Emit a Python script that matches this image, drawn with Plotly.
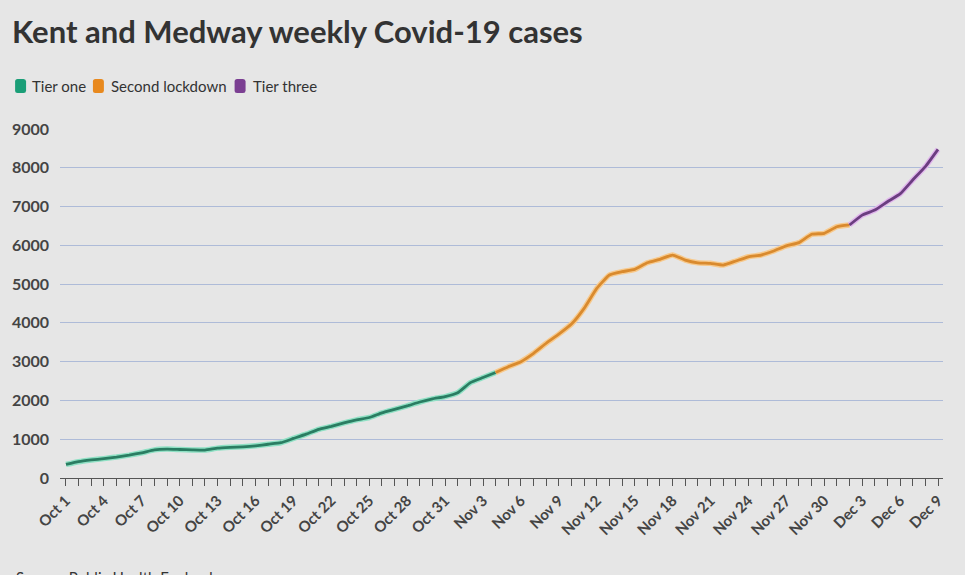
import plotly.graph_objects as go
import pandas as pd

# ---- data ----
dates = pd.date_range("2020-10-01", "2020-12-09", freq="D")
cases = [
    350, 420, 465, 500, 540, 590, 650, 725, 745, 735,      # Oct 1-10
    725, 720, 770, 790, 805, 830, 870, 910, 1020, 1130,    # Oct 11-20
    1255, 1330, 1420, 1500, 1560, 1680, 1770, 1860, 1960, 2040,  # Oct 21-30
    2100, 2200, 2460, 2590, 2720,                          # Oct 31 - Nov 4
    2870, 3000, 3215, 3475, 3710, 3970, 4375, 4890, 5235, 5320,  # Nov 5-14
    5380, 5550, 5640, 5750, 5620, 5550, 5535, 5490, 5595, 5705,  # Nov 15-24
    5750, 5855, 5985, 6070, 6285, 6310, 6480, 6525,        # Nov 25 - Dec 2
    6780, 6910, 7125, 7325, 7685, 8030, 8475,              # Dec 3-9
]
series_names = ["Tier one", "Second lockdown", "Tier three"]
series_ranges = [("2020-10-01", "2020-11-04"), ("2020-11-04", "2020-12-02"), ("2020-12-02", "2020-12-09")]
series_colors = ["#1a9e77", "#e8891e", "#7b3f92"]
line_colors = ["#2a7d62", "#d98a2e", "#6b3d80"]
halo_colors = ["#8fe0c4", "#f7c98c", "#e0b6ec"]

df = pd.DataFrame({"date": dates, "cases": cases})

# plot-area geometry (pixels)
W, H = 965, 575
L, R, T, B = 58, 22, 129, 97
PW, PH = W - L - R, H - T - B


def px2x(px):
    return (px - L) / PW


def py2y(py):
    return (H - B - py) / PH


fig = go.Figure()
for name, (start, end), lc, hc in zip(series_names, series_ranges, line_colors, halo_colors):
    seg = df[(df.date >= start) & (df.date <= end)]
    fig.add_trace(go.Scatter(x=seg.date, y=seg.cases, mode="lines",
                             line=dict(color=hc, width=5.5, shape="spline", smoothing=0.4),
                             showlegend=False, hoverinfo="skip"))
    fig.add_trace(go.Scatter(x=seg.date, y=seg.cases, mode="lines",
                             line=dict(color=lc, width=2.8, shape="spline", smoothing=0.4),
                             showlegend=False, name=name))

fig.update_layout(
    width=W, height=H,
    paper_bgcolor="#e6e6e6", plot_bgcolor="#e6e6e6",
    margin=dict(l=L, r=R, t=T, b=B),
    font=dict(family="Lato, Open Sans, sans-serif", color="#333"),
    title=dict(text="<b>Kent and Medway weekly Covid-19 cases</b>",
               x=12 / W, xanchor="left", y=1 - 32 / H, yanchor="middle",
               font=dict(size=31, color="#333", family="Lato, sans-serif")),
    showlegend=False,
)

# custom legend: rounded swatches + labels
legend_sw_x = [13, 91, 233]
legend_txt_x = [28, 107, 249]
sw_w, sw_h, rad = 11, 14, 2.5
for sx, tx, name, c in zip(legend_sw_x, legend_txt_x, series_names, series_colors):
    x0, x1 = sx, sx + sw_w
    y0, y1 = 79, 79 + sw_h
    path = (f"M {px2x(x0 + rad)} {py2y(y0)} L {px2x(x1 - rad)} {py2y(y0)} "
            f"Q {px2x(x1)} {py2y(y0)} {px2x(x1)} {py2y(y0 + rad)} "
            f"L {px2x(x1)} {py2y(y1 - rad)} Q {px2x(x1)} {py2y(y1)} {px2x(x1 - rad)} {py2y(y1)} "
            f"L {px2x(x0 + rad)} {py2y(y1)} Q {px2x(x0)} {py2y(y1)} {px2x(x0)} {py2y(y1 - rad)} "
            f"L {px2x(x0)} {py2y(y0 + rad)} Q {px2x(x0)} {py2y(y0)} {px2x(x0 + rad)} {py2y(y0)} Z")
    fig.add_shape(type="path", path=path, xref="paper", yref="paper",
                  fillcolor=c, line=dict(width=0))
    fig.add_annotation(text=name, xref="paper", yref="paper", x=px2x(tx), y=py2y(86),
                       xanchor="left", yanchor="middle", showarrow=False,
                       font=dict(size=15, color="#333", family="Lato, sans-serif"))

fig.update_xaxes(
    type="date",
    range=["2020-09-30 12:40", "2020-12-09 09:30"],
    tick0="2020-10-01", dtick=3 * 86400000, tickformat="%b %-d",
    tickangle=-45, ticks="outside", ticklen=7, tickcolor="#555",
    tickfont=dict(size=15, color="#444", family="Lato, sans-serif", weight="bold"),
    minor=dict(dtick=86400000, tick0="2020-10-01", ticks="outside", ticklen=7, tickcolor="#555", showgrid=False),
    showline=True, linecolor="#555", linewidth=1,
    showgrid=False, zeroline=False,
)
fig.update_yaxes(
    range=[0, 9000], dtick=1000, tickformat="d",
    showgrid=True, gridcolor="#aebbd8", gridwidth=1,
    zeroline=False, showline=False, ticks="",
    tickfont=dict(size=16, color="#444", family="Lato, sans-serif", weight="bold"),
    ticklabelstandoff=10,
)

fig.add_annotation(text="Source: Public Health England", xref="paper", yref="paper",
                   x=px2x(12), y=py2y(566), xanchor="left", yanchor="top",
                   showarrow=False, font=dict(size=15, color="#333", family="Lato, sans-serif"))

fig.write_html("out.html", config={"displayModeBar": False},
               post_script="document.body.style.margin='0';")
